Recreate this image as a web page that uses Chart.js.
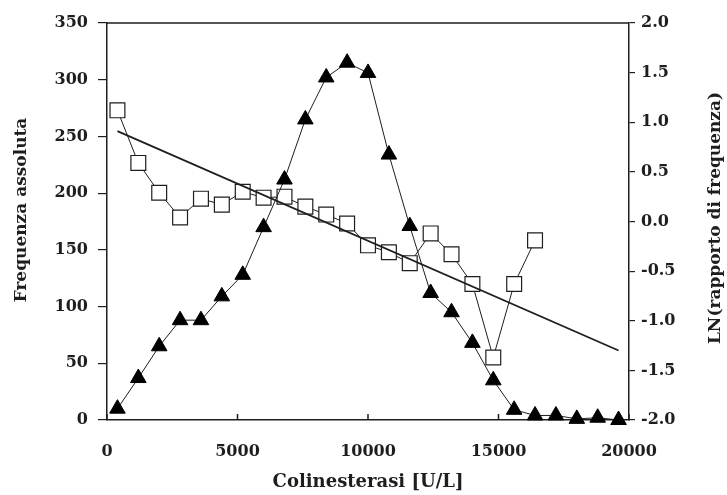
<!DOCTYPE html>
<html>
<head>
<meta charset="utf-8">
<script src="https://cdn.jsdelivr.net/npm/chart.js@4"></script>
<style>
  body { margin: 0; background: #fff; }
</style>
</head>
<body>
<canvas id="chart" width="727" height="495"></canvas>
<script>
// Colinesterasi classes (U/L), class centres
const colinX = [400, 1200, 2000, 2800, 3600, 4400, 5200, 6000, 6800, 7600, 8400, 9200, 10000,
    10800, 11600, 12400, 13200, 14000, 14800, 15600, 16400, 17200, 18000, 18800, 19600];
// Frequenza assoluta (triangles, left axis)
const freqAss = [10, 37, 65, 88, 88, 109, 128, 170, 212, 265, 302, 315, 306,
    234, 171, 112, 95, 68, 35, 9, 4, 4, 1, 2, 0];
// LN(rapporto di frequenza) (squares, right axis) - first 21 classes only
const lnRatio = [1.12, 0.59, 0.29, 0.04, 0.23, 0.17, 0.30, 0.24, 0.25, 0.15, 0.07, -0.02,
    -0.24, -0.31, -0.42, -0.12, -0.33, -0.63, -1.37, -0.63, -0.19];
// Regression line end points
const fitX = [400, 19600];
const fitY = [0.91, -1.30];

const xTitle = 'Colinesterasi [U/L]';
const leftTitle = 'Frequenza assoluta';
const rightTitle = 'LN(rapporto di frequenza)';

const ink = '#1e1e1e';
const fontFam = '"DejaVu Serif", serif';

const triPts = colinX.map((x, i) => ({ x, y: freqAss[i] }));
const sqPts = lnRatio.map((y, i) => ({ x: colinX[i], y }));
const fitPts = fitX.map((x, i) => ({ x, y: fitY[i] }));

// top frame line, inward x ticks and the two rotated y titles
const framePlugin = {
    id: 'frame',
    beforeDatasetsDraw(chart) {
        const { ctx, chartArea: a, scales } = chart;
        ctx.save();
        ctx.strokeStyle = ink;
        ctx.lineWidth = 1.5;
        ctx.beginPath();
        ctx.moveTo(a.left, a.top);
        ctx.lineTo(a.right, a.top);
        scales.x.ticks.forEach(t => {
            const px = scales.x.getPixelForValue(t.value);
            ctx.moveTo(px, a.bottom);
            ctx.lineTo(px, a.bottom - 6);
        });
        ctx.stroke();

        ctx.fillStyle = ink;
        ctx.font = 'bold 17px ' + fontFam;
        ctx.textAlign = 'center';
        ctx.textBaseline = 'middle';
        ctx.save();
        ctx.translate(22, 210);
        ctx.rotate(-Math.PI / 2);
        ctx.fillText(leftTitle, 0, 0);
        ctx.restore();
        ctx.save();
        ctx.translate(716, 218);
        ctx.rotate(-Math.PI / 2);
        ctx.fillText(rightTitle, 0, 0);
        ctx.restore();
        ctx.restore();
    }
};

const tickFont = { family: fontFam, size: 16, weight: 'bold' };

new Chart(document.getElementById('chart'), {
    type: 'scatter',
    data: {
        datasets: [
            {
                label: 'fit',
                data: fitPts,
                yAxisID: 'y1',
                showLine: true,
                borderColor: ink,
                borderWidth: 1.8,
                pointRadius: 0,
                order: 0
            },
            {
                label: leftTitle,
                data: triPts,
                yAxisID: 'y',
                showLine: true,
                borderColor: ink,
                borderWidth: 1,
                pointStyle: 'triangle',
                pointRadius: 9,
                pointBackgroundColor: '#000',
                pointBorderColor: '#000',
                pointBorderWidth: 1,
                clip: false,
                order: 1
            },
            {
                label: rightTitle,
                data: sqPts,
                yAxisID: 'y1',
                showLine: true,
                borderColor: ink,
                borderWidth: 1,
                pointStyle: 'rect',
                pointRadius: 10.5,
                pointBackgroundColor: '#fff',
                pointBorderColor: ink,
                pointBorderWidth: 1.2,
                clip: false,
                order: 2
            }
        ]
    },
    options: {
        responsive: false,
        animation: false,
        layout: { padding: { top: 23, left: 0, right: 0, bottom: 0 } },
        plugins: {
            legend: { display: false },
            tooltip: { enabled: false }
        },
        scales: {
            x: {
                type: 'linear',
                min: 0,
                max: 20000,
                ticks: { stepSize: 5000, color: ink, font: tickFont, padding: 16, callback: v => String(v) },
                grid: { drawOnChartArea: false, drawTicks: true, tickLength: 6, color: 'rgba(0,0,0,0)' },
                border: { color: ink, width: 1.5 },
                title: {
                    display: true,
                    text: xTitle,
                    color: ink,
                    font: { family: fontFam, size: 18, weight: 'bold' },
                    padding: { top: 0, bottom: 2 }
                },
                afterFit: s => { s.height = 75; }
            },
            y: {
                position: 'left',
                min: 0,
                max: 350,
                ticks: { stepSize: 50, color: ink, font: tickFont, padding: 10 },
                grid: { drawOnChartArea: false, tickLength: 9, color: ink, lineWidth: 1.2 },
                border: { color: ink, width: 1.5 },
                afterFit: s => { s.width = 107; }
            },
            y1: {
                position: 'right',
                min: -2,
                max: 2,
                ticks: { stepSize: 0.5, color: ink, font: tickFont, padding: 6, callback: v => v.toFixed(1) },
                grid: { drawOnChartArea: false, tickLength: 6, color: ink, lineWidth: 1.2 },
                border: { color: ink, width: 1.5 },
                afterFit: s => { s.width = 98; }
            }
        }
    },
    plugins: [framePlugin]
});
</script>
</body>
</html>
